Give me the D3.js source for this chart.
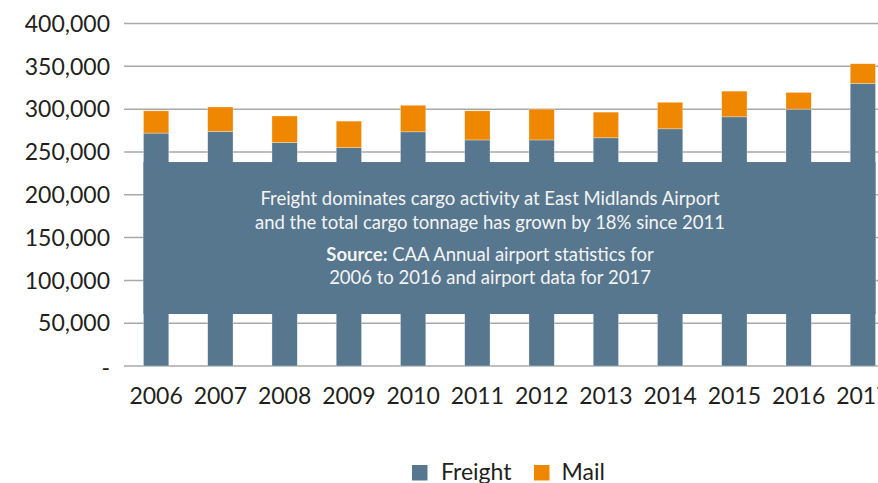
<!DOCTYPE html>
<html>
<head>
<meta charset="utf-8">
<script src="https://cdn.jsdelivr.net/npm/d3@7"></script>
<style>
  html, body { margin: 0; padding: 0; background: #fff; }
  svg { display: block; font-family: Lato, "Noto Sans", sans-serif; }
</style>
</head>
<body>
<svg id="chart" width="878" height="483"></svg>
<script>
// Annual cargo tonnage at East Midlands Airport
const years   = ["2006","2007","2008","2009","2010","2011","2012","2013","2014","2015","2016","2017"];
const freight = [272000, 274000, 261000, 255000, 273500, 264000, 264000, 266500, 277000, 291000, 300000, 330000];
const mail    = [ 26000,  28500,  31000,  31000,  31000,  34000,  36000,  30000,  31000,  30000,  19500,  23000];
const yTicks  = [0, 50000, 100000, 150000, 200000, 250000, 300000, 350000, 400000];
const seriesNames = ["Freight", "Mail"];
const noteLines = [
  "Freight dominates cargo activity at East Midlands Airport",
  "and the total cargo tonnage has grown by 18% since 2011"
];
const sourceLines = [
  ["Source:", " CAA Annual airport statistics for"],
  ["", "2006 to 2016 and airport data for 2017"]
];

const colors = { Freight: "#57778f", Mail: "#f08700" };
const textColor = "#231f20";

const svg = d3.select("#chart");

const x = d3.scaleBand()
  .domain(years)
  .range([124, 895])
  .paddingInner(0.606)
  .paddingOuter(0.303);

const y = d3.scaleLinear()
  .domain([0, 400000])
  .range([366, 23.5]);

// Horizontal gridlines
svg.append("g")
  .selectAll("line")
  .data(yTicks)
  .join("line")
  .attr("x1", 124)
  .attr("x2", 878)
  .attr("y1", d => y(d))
  .attr("y2", d => y(d))
  .attr("stroke", "#a8a8a8")
  .attr("stroke-width", 1.5);

// Y tick labels
const fmt = d3.format(",");
svg.append("g")
  .selectAll("text")
  .data(yTicks)
  .join("text")
  .attr("x", 110)
  .attr("y", d => y(d))
  .attr("dy", d => d === 0 ? "0.45em" : "0.36em")
  .attr("text-anchor", "end")
  .attr("font-size", 23)
  .attr("fill", textColor)
  .text(d => d === 0 ? "-" : fmt(d));

// Stacked bars
const rows = years.map((yr, i) => ({ year: yr, Freight: freight[i], Mail: mail[i] }));
const stacked = d3.stack().keys(seriesNames)(rows);

svg.append("g")
  .selectAll("g")
  .data(stacked)
  .join("g")
  .attr("fill", d => colors[d.key])
  .selectAll("rect")
  .data(d => d)
  .join("rect")
  .attr("x", d => x(d.data.year))
  .attr("width", x.bandwidth())
  .attr("y", d => y(d[1]))
  .attr("height", d => y(d[0]) - y(d[1]))
  .attr("stroke", "#ffffff")
  .attr("stroke-opacity", 0.5)
  .attr("stroke-width", 0.6);

// Annotation panel spanning the bars
const boxTop = y(238200), boxBottom = y(60700);
const boxLeft = x(years[0]), boxRight = x(years[years.length - 1]) + x.bandwidth();
svg.append("rect")
  .attr("x", boxLeft)
  .attr("y", boxTop)
  .attr("width", boxRight - boxLeft)
  .attr("height", boxBottom - boxTop)
  .attr("fill", colors.Freight);

const cx = 490;
const note = svg.append("g")
  .attr("fill", "#f4f4f4")
  .attr("text-anchor", "middle")
  .attr("font-size", 18.5);

note.selectAll("text.note")
  .data(noteLines)
  .join("text")
  .attr("class", "note")
  .attr("x", cx)
  .attr("y", (d, i) => 205 + i * 24)
  .text(d => d);

note.selectAll("text.src")
  .data(sourceLines)
  .join("text")
  .attr("class", "src")
  .attr("x", cx)
  .attr("y", (d, i) => 260.5 + i * 23)
  .each(function(d) {
    const t = d3.select(this);
    if (d[0]) t.append("tspan").attr("font-weight", 700).text(d[0]);
    t.append("tspan").text(d[1]);
  });

// X axis labels
svg.append("g")
  .selectAll("text")
  .data(years)
  .join("text")
  .attr("x", d => x(d) + x.bandwidth() / 2)
  .attr("y", 404)
  .attr("text-anchor", "middle")
  .attr("font-size", 23)
  .attr("fill", textColor)
  .text(d => d);

// Legend
const legend = svg.append("g");
const legendItems = [
  { name: "Freight", sx: 412, tx: 441 },
  { name: "Mail", sx: 534, tx: 561.5 }
];
legend.selectAll("rect")
  .data(legendItems)
  .join("rect")
  .attr("x", d => d.sx)
  .attr("y", 465)
  .attr("width", 15.5)
  .attr("height", 15.5)
  .attr("fill", d => colors[d.name]);
legend.selectAll("text")
  .data(legendItems)
  .join("text")
  .attr("x", d => d.tx)
  .attr("y", 480)
  .attr("font-size", 23)
  .attr("fill", textColor)
  .text(d => d.name);
</script>
</body>
</html>
